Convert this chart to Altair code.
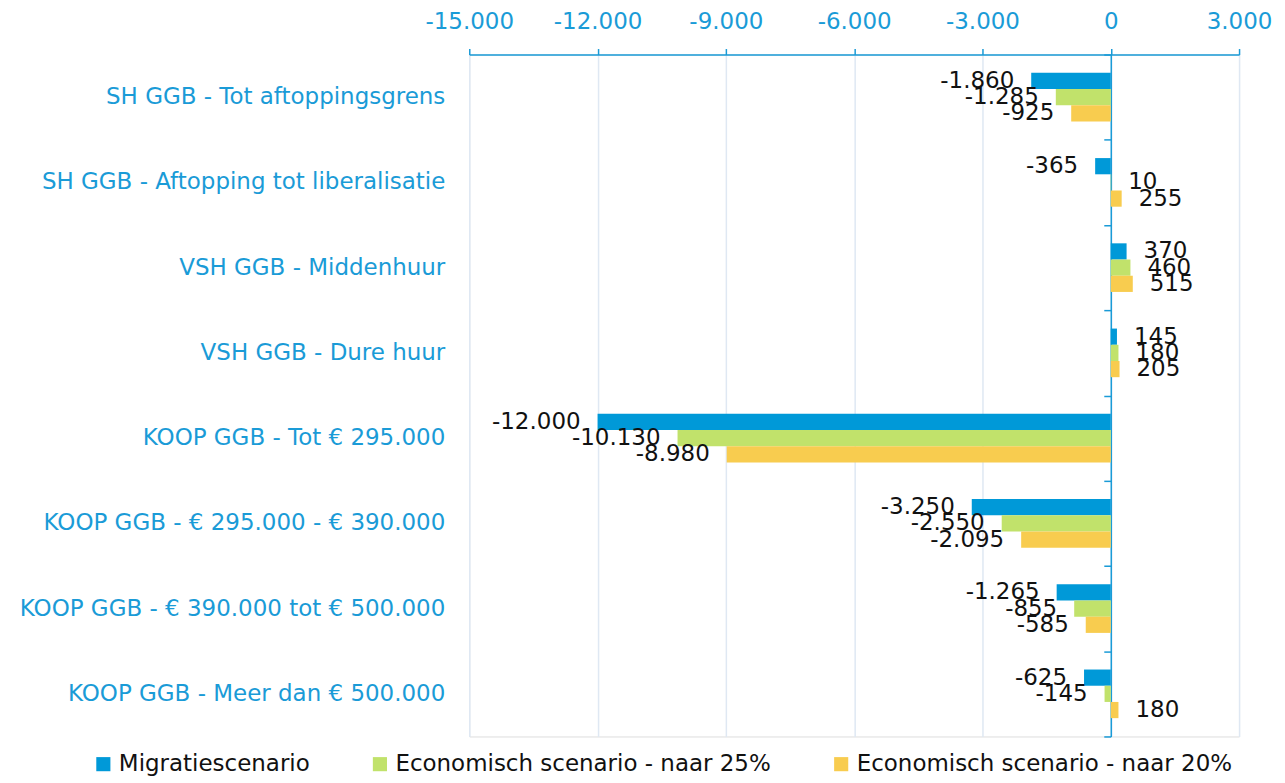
import altair as alt
import pandas as pd

categories = [
    "SH GGB - Tot aftoppingsgrens",
    "SH GGB - Aftopping tot liberalisatie",
    "VSH GGB - Middenhuur",
    "VSH GGB - Dure huur",
    "KOOP GGB - Tot € 295.000",
    "KOOP GGB - € 295.000 - € 390.000",
    "KOOP GGB - € 390.000 tot € 500.000",
    "KOOP GGB - Meer dan € 500.000",
]
series = [
    "Migratiescenario",
    "Economisch scenario - naar 25%",
    "Economisch scenario - naar 20%",
]
migratie = [-1860, -365, 370, 145, -12000, -3250, -1265, -625]
econ25 = [-1285, 10, 460, 180, -10130, -2550, -855, -145]
econ20 = [-925, 255, 515, 205, -8980, -2095, -585, 180]
x_ticks = [-15000, -12000, -9000, -6000, -3000, 0, 3000]
colors = ["#0099d8", "#c1e26b", "#f8cc4f"]

BLUE = "#1a9bd7"
FONT = "DejaVu Sans"
FS = 23

rows = []
for i, c in enumerate(categories):
    for s, vals in zip(series, [migratie, econ25, econ20]):
        rows.append({"cat": c, "series": s, "value": vals[i]})
df = pd.DataFrame(rows)
cat_df = pd.DataFrame({"cat": categories})

W, H = 771, 683
x_scale = alt.Scale(domain=[-15000, 3000], nice=False, zero=False)
y_axis = alt.Axis(
    title=None, labels=False, orient="left", offset=-W * 15000 / 18000,
    domainColor=BLUE, domainWidth=1.5, tickColor=BLUE, tickWidth=1.5,
    tickSize=7, tickBand="extent", grid=False,
)
y_enc = alt.Y("cat:N", sort=categories,
              scale=alt.Scale(paddingInner=0, paddingOuter=0), axis=y_axis)
# two empty slots around the three series give the outer gap inside each band
yoff_domain = ["_pad_top"] + series + ["_pad_bottom"]
yoff = alt.YOffset("series:N",
                   scale=alt.Scale(domain=yoff_domain, paddingInner=0, paddingOuter=0.13))

x_axis = alt.Axis(
    title=None, orient="top", values=x_ticks, format=",.0f",
    labelColor=BLUE, labelFontSize=FS, labelFont=FONT, labelPadding=15,
    labelOverlap=False, labelFlush=False,
    domainColor=BLUE, domainWidth=1.5, tickColor=BLUE, tickWidth=1.5,
    tickSize=6, grid=True, gridColor="#dfe8f3", gridWidth=1.5,
)
x_enc = alt.X("value:Q", scale=x_scale, axis=x_axis)

bars = alt.Chart(df).mark_bar().encode(
    x=x_enc,
    y=y_enc,
    yOffset=yoff,
    color=alt.Color(
        "series:N", sort=series,
        scale=alt.Scale(domain=series, range=colors),
        legend=alt.Legend(
            title=None, orient="none", direction="horizontal", columns=3,
            legendX=-378, legendY=699, symbolType="square", symbolSize=200,
            symbolStrokeWidth=0, labelFontSize=FS, labelFont=FONT,
            labelColor="#111111", columnPadding=58, labelOffset=4, labelLimit=0,
        ),
    ),
)

neg = alt.Chart(df).transform_filter("datum.value < 0").mark_text(
    align="right", baseline="middle", dx=-17, fontSize=FS, font=FONT, color="#111111"
).encode(
    x=x_enc, y=y_enc, yOffset=yoff,
    text=alt.Text("value:Q", format=",.0f"),
)
pos = alt.Chart(df).transform_filter("datum.value >= 0").mark_text(
    align="left", baseline="middle", dx=17, fontSize=FS, font=FONT, color="#111111"
).encode(
    x=x_enc, y=y_enc, yOffset=yoff,
    text=alt.Text("value:Q", format=",.0f"),
)

cat_labels = alt.Chart(cat_df).mark_text(
    align="right", baseline="middle", fontSize=FS, font=FONT, color=BLUE
).encode(
    y=y_enc,
    x=alt.value(-24),
    text="cat:N",
)

chart = alt.layer(bars, neg, pos, cat_labels).properties(
    width=W, height=H, padding={"left": 11, "top": 2, "right": 5, "bottom": 0}
).configure_view(stroke=None).configure(
    locale={"number": {"decimal": ",", "thousands": ".", "grouping": [3],
                       "currency": ["€ ", ""], "minus": "-"}}
)

chart.save("out.html", embed_options={"renderer": "svg", "actions": False})
